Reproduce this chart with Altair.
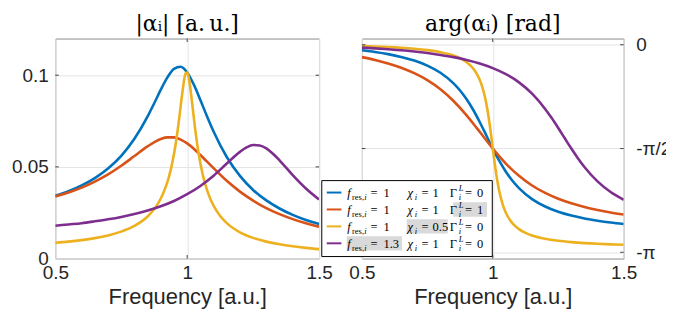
import math
import altair as alt
import pandas as pd

# ---------------- data ----------------
series_ids = ["s1", "s2", "s3", "s4"]
series_colors = ["#0072BD", "#D95319", "#EDB120", "#7E2F8E"]

# blue: f_res=1, chi=1, Gamma=0
freq_blue = [0.5, 0.55, 0.6, 0.65, 0.7, 0.75, 0.8, 0.85, 0.875, 0.9, 0.925, 0.95, 0.975,
             1.0, 1.025, 1.05, 1.075, 1.1, 1.15, 1.2, 1.25, 1.3, 1.35, 1.4, 1.45, 1.5]
abs_blue = [0.0342, 0.0367, 0.0399, 0.0439, 0.0491, 0.0560, 0.0653, 0.0775, 0.0847, 0.0921,
            0.0988, 0.1035, 0.1046, 0.1015, 0.0949, 0.0865, 0.0776, 0.0693, 0.0554, 0.0451,
            0.0374, 0.0317, 0.0273, 0.0238, 0.0210, 0.0188]
arg_blue = [-0.084, -0.110, -0.142, -0.184, -0.239, -0.316, -0.424, -0.584, -0.692, -0.825,
            -0.984, -1.169, -1.369, -1.571, -1.758, -1.922, -2.059, -2.170, -2.336, -2.448,
            -2.528, -2.586, -2.629, -2.663, -2.691, -2.713]

# red: f_res=1, chi=1, Gamma=1
freq_red = [0.5, 0.55, 0.6, 0.65, 0.7, 0.75, 0.8, 0.85, 0.9, 0.925, 0.95, 0.975, 1.0, 1.025,
            1.05, 1.1, 1.15, 1.2, 1.25, 1.3, 1.35, 1.4, 1.45, 1.5]
abs_red = [0.0338, 0.0360, 0.0387, 0.0420, 0.0459, 0.0506, 0.0559, 0.0612, 0.0652, 0.0661,
           0.0661, 0.0649, 0.0628, 0.0599, 0.0565, 0.0493, 0.0424, 0.0365, 0.0316, 0.0275,
           0.0242, 0.0215, 0.0192, 0.0173]
arg_red = [-0.187, -0.229, -0.282, -0.347, -0.430, -0.536, -0.674, -0.851, -1.069, -1.191,
           -1.318, -1.446, -1.571, -1.689, -1.798, -1.984, -2.130, -2.243, -2.331, -2.400,
           -2.455, -2.500, -2.538, -2.569]

# yellow: f_res=1, chi=0.5, Gamma=0
freq_yellow = [0.5, 0.55, 0.6, 0.65, 0.7, 0.75, 0.8, 0.85, 0.88, 0.9, 0.92, 0.93, 0.94, 0.95,
               0.96, 0.97, 0.98, 0.99, 0.995, 1.0, 1.005, 1.01, 1.02, 1.03, 1.04, 1.05, 1.06,
               1.07, 1.08, 1.09, 1.1, 1.125, 1.15, 1.2, 1.25, 1.3, 1.35, 1.4, 1.45, 1.5]
abs_yellow = [0.00859, 0.00923, 0.01006, 0.01115, 0.01261, 0.01468, 0.01779, 0.02291, 0.02791,
              0.03273, 0.03960, 0.04418, 0.04986, 0.05698, 0.06587, 0.07669, 0.08865, 0.09866,
              0.10127, 0.10152, 0.09930, 0.09505, 0.08324, 0.07097, 0.06042, 0.05192, 0.04515,
              0.03975, 0.03538, 0.03180, 0.02882, 0.02321, 0.01934, 0.01434, 0.01128, 0.00923,
              0.00776, 0.00666, 0.00580, 0.00512]
arg_yellow = [-0.0212, -0.0275, -0.0357, -0.0464, -0.0609, -0.0814, -0.1123, -0.1637, -0.2145,
              -0.2643, -0.3365, -0.386, -0.4487, -0.531, -0.641, -0.791, -0.995, -1.261, -1.413,
              -1.571, -1.726, -1.872, -2.120, -2.306, -2.442, -2.543, -2.618, -2.677, -2.723,
              -2.760, -2.791, -2.848, -2.887, -2.937, -2.967, -2.987, -3.002, -3.013, -3.021,
              -3.028]

# purple: f_res=1.3, chi=1, Gamma=0
freq_purple = [0.5, 0.55, 0.6, 0.65, 0.7, 0.75, 0.8, 0.85, 0.9, 0.95, 1.0, 1.05, 1.1, 1.15,
               1.2, 1.225, 1.25, 1.275, 1.3, 1.325, 1.35, 1.4, 1.45, 1.5]
abs_purple = [0.0179, 0.0186, 0.0193, 0.0203, 0.0214, 0.0227, 0.0243, 0.0262, 0.0285, 0.0314,
              0.0351, 0.0396, 0.0452, 0.0518, 0.0582, 0.0606, 0.0619, 0.0617, 0.0601, 0.0572,
              0.0536, 0.0455, 0.0382, 0.0322]
arg_purple = [-0.044, -0.055, -0.069, -0.084, -0.103, -0.126, -0.154, -0.187, -0.230, -0.283,
              -0.353, -0.445, -0.569, -0.740, -0.971, -1.110, -1.260, -1.416, -1.571, -1.717,
              -1.850, -2.068, -2.229, -2.346]

x_ticks = [0.5, 1, 1.5]
abs_ticks = [0, 0.05, 0.1]
arg_ticks = [-math.pi, -math.pi / 2, 0]

legend_fres = ["1", "1", "1", "1.3"]
legend_chi = ["1", "1", "0.5", "1"]
legend_gamma = ["0", "1", "0", "0"]
legend_highlight = ["", "gamma", "chi", "fres"]

title_left = "|αᵢ| [a.\u2009u.]"
title_right = "arg(αᵢ) [rad]"
x_title = "Frequency [a.u.]"

# ---------------- build table ----------------
rows = []
for sid, fs, ms, ps in [("s1", freq_blue, abs_blue, arg_blue),
                        ("s2", freq_red, abs_red, arg_red),
                        ("s3", freq_yellow, abs_yellow, arg_yellow),
                        ("s4", freq_purple, abs_purple, arg_purple)]:
    for f, m, p in zip(fs, ms, ps):
        rows.append({"series": sid, "f": f, "mag": m, "arg": p})
df = pd.DataFrame(rows)

WL, WR, H = 265, 263, 221
SANS = "Liberation Sans"
SERIF = "DejaVu Serif"
LEGSERIF = "Liberation Serif"
LW = 2.6

color_scale = alt.Scale(domain=series_ids, range=series_colors)
xscale = alt.Scale(domain=[0.5, 1.5], nice=False, zero=False)
yscale_abs = alt.Scale(domain=[0, 0.12], nice=False, zero=False)
yscale_arg = alt.Scale(domain=[-3.236, 0.094], nice=False, zero=False)

x_axis = alt.Axis(values=x_ticks, format="~g", title=x_title, grid=True,
                  labelPadding=5, titlePadding=4)
y_axis_abs = alt.Axis(values=abs_ticks, format="~g", title=None, grid=True, labelPadding=7)
y_axis_arg = alt.Axis(values=arg_ticks, orient="right", title=None, grid=True,
                      labelAlign="left", labelPadding=12,
                      labelExpr="datum.value > -1 ? '0' : (datum.value > -2 ? '-π/2' : '-π')")


def tick_layers(yscale, yaxis, yvals, w, n=3.5):
    d_y = pd.DataFrame({"v": yvals})
    d_x = pd.DataFrame({"v": [1.0]})
    st = dict(color="#404040", strokeWidth=1)
    return [
        alt.Chart(d_y).mark_rule(**st).encode(
            y=alt.Y("v:Q", scale=yscale, axis=yaxis), x=alt.value(0), x2=alt.value(n)),
        alt.Chart(d_y).mark_rule(**st).encode(
            y=alt.Y("v:Q", scale=yscale, axis=yaxis), x=alt.value(w - n), x2=alt.value(w)),
        alt.Chart(d_x).mark_rule(**st).encode(
            x=alt.X("v:Q", scale=xscale, axis=x_axis), y=alt.value(H - n), y2=alt.value(H)),
        alt.Chart(d_x).mark_rule(**st).encode(
            x=alt.X("v:Q", scale=xscale, axis=x_axis), y=alt.value(0), y2=alt.value(n)),
    ]


def panel_title(t, w):
    return alt.Chart(pd.DataFrame({"t": [t]})).mark_text(
        font=SERIF, fontSize=22, baseline="alphabetic", align="center", color="#000000"
    ).encode(x=alt.value(w / 2), y=alt.value(-7.6), text="t:N")


left_lines = alt.Chart(df).mark_line(strokeWidth=LW, interpolate="monotone", clip=True).encode(
    x=alt.X("f:Q", scale=xscale, axis=x_axis),
    y=alt.Y("mag:Q", scale=yscale_abs, axis=y_axis_abs),
    color=alt.Color("series:N", scale=color_scale, legend=None),
)
left = alt.layer(left_lines, *tick_layers(yscale_abs, y_axis_abs, [0.05, 0.1], WL),
                 panel_title(title_left, WL)).properties(width=WL, height=H)

right_lines = alt.Chart(df).mark_line(strokeWidth=LW, interpolate="monotone", clip=True).encode(
    x=alt.X("f:Q", scale=xscale, axis=x_axis),
    y=alt.Y("arg:Q", scale=yscale_arg, axis=y_axis_arg),
    color=alt.Color("series:N", scale=color_scale, legend=None),
)

# ---------------- manual legend (pixel layout inside right panel) ----------------
ORX, ORY = 55.3 + WL + 43, 36.3
box = pd.DataFrame({"x0": [323 - ORX], "x1": [494.3 - ORX], "y0": [179 - ORY], "y1": [255.3 - ORY]})
row_c = [191 - ORY + 17 * i for i in range(4)]
base = [c + 4.3 for c in row_c]

hl_cols = {"fres": (348.0 - ORX, 403.7 - ORX), "chi": (408.3 - ORX, 449.5 - ORX),
           "gamma": (455.0 - ORX, 489.0 - ORX)}
hl = []
for i, key in enumerate(legend_highlight):
    if key:
        a, b = hl_cols[key]
        hl.append({"x0": a, "x1": b, "y0": row_c[i] - 7.2, "y1": row_c[i] + 7.2})
hl = pd.DataFrame(hl)

samples = pd.DataFrame({"series": series_ids, "x0": [328 - ORX] * 4, "x1": [342.7 - ORX] * 4,
                        "y": row_c})

main_it, main_up, small_up, small_it = [], [], [], []
for i in range(4):
    b = base[i]
    main_it.append({"px": 348.7 - ORX, "py": b, "t": "f"})
    small_up.append({"px": 353.4 - ORX, "py": b + 3, "t": "res,"})
    small_it.append({"px": 365.6 - ORX, "py": b + 3, "t": "i"})
    main_up.append({"px": 372.0 - ORX, "py": b, "t": "="})
    main_up.append({"px": 385.0 - ORX, "py": b, "t": legend_fres[i]})
    main_it.append({"px": 409.0 - ORX, "py": b, "t": "χ"})
    small_it.append({"px": 416.4 - ORX, "py": b + 3, "t": "i"})
    main_up.append({"px": 423.3 - ORX, "py": b, "t": "="})
    main_up.append({"px": 434.3 - ORX, "py": b, "t": legend_chi[i]})
    main_up.append({"px": 451.5 - ORX, "py": b, "t": "Γ"})
    small_it.append({"px": 460.6 - ORX, "py": b - 5.5, "t": "L"})
    small_it.append({"px": 460.6 - ORX, "py": b + 3.5, "t": "i"})
    main_up.append({"px": 466.8 - ORX, "py": b, "t": "="})
    main_up.append({"px": 479.0 - ORX, "py": b, "t": legend_gamma[i]})


def txt(rows_, size, style):
    return alt.Chart(pd.DataFrame(rows_)).mark_text(
        font=LEGSERIF, fontSize=size, fontStyle=style, align="left", baseline="alphabetic",
        color="#000000").encode(
        x=alt.X("px:Q", scale=None), y=alt.Y("py:Q", scale=None), text="t:N")


leg_box = alt.Chart(box).mark_rect(fill="#ffffff", stroke="#000000", strokeWidth=1).encode(
    x=alt.X("x0:Q", scale=None), x2="x1:Q", y=alt.Y("y0:Q", scale=None), y2="y1:Q")
leg_hl = alt.Chart(hl).mark_rect(fill="#d9d9d9").encode(
    x=alt.X("x0:Q", scale=None), x2="x1:Q", y=alt.Y("y0:Q", scale=None), y2="y1:Q")
leg_lines = alt.Chart(samples).mark_rule(strokeWidth=2).encode(
    x=alt.X("x0:Q", scale=None), x2="x1:Q", y=alt.Y("y:Q", scale=None),
    color=alt.Color("series:N", scale=color_scale, legend=None))

right = alt.layer(
    right_lines, *tick_layers(yscale_arg, y_axis_arg, arg_ticks, WR),
    leg_box, leg_hl, leg_lines,
    txt(main_it, 12.5, "italic"), txt(main_up, 12.5, "normal"),
    txt(small_up, 8.5, "normal"), txt(small_it, 8.5, "italic"),
    panel_title(title_right, WR),
).properties(width=WR, height=H)

chart = alt.hconcat(left, right, spacing=43, bounds="flush").properties(
    padding={"left": 2.5, "top": 3, "right": -5.5, "bottom": 0}
).configure_view(
    stroke="#8a8a8a", strokeWidth=1
).configure_axis(
    labelFont=SANS, labelFontSize=19, labelColor="#262626",
    titleFont=SANS, titleFontSize=22, titleColor="#262626", titleFontWeight="normal",
    domain=False, ticks=False, tickSize=0, gridColor="#e4e4e4", gridWidth=1,
    labelFlush=False,
)

chart.save("out.html", embed_options={"renderer": "svg", "actions": False})
